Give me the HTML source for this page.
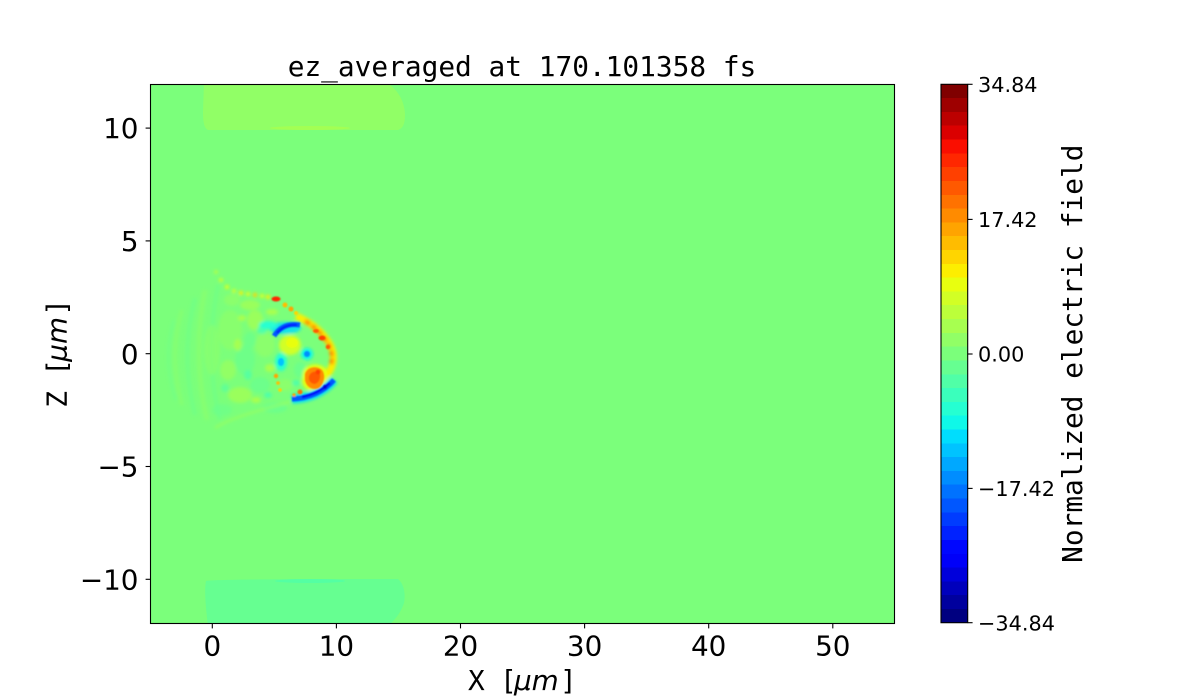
<!DOCTYPE html>
<html>
<head>
<meta charset="utf-8">
<style>
html,body{margin:0;padding:0;background:#fff;}
svg{display:block;}
.tk{font-family:"DejaVu Sans","Liberation Sans",sans-serif;font-size:27.8px;fill:#000;}
.ctk{font-family:"DejaVu Sans","Liberation Sans",sans-serif;font-size:20.8px;fill:#000;}
.mono{font-family:"DejaVu Sans Mono","Liberation Mono",monospace;font-size:27.8px;fill:#000;}
.it{font-family:"DejaVu Sans","Liberation Sans",sans-serif;font-style:italic;font-size:27.8px;}
</style>
</head>
<body>
<svg width="1200" height="700" viewBox="0 0 1200 700" xmlns="http://www.w3.org/2000/svg">
<defs>
  <clipPath id="ax"><rect x="150.5" y="84.5" width="744" height="539"/></clipPath>
  <filter id="bl" x="-20%" y="-20%" width="140%" height="140%"><feGaussianBlur stdDeviation="1.5"/></filter>
  <filter id="bl2" x="-20%" y="-20%" width="140%" height="140%"><feGaussianBlur stdDeviation="0.9"/></filter>
</defs>

<!-- Title -->
<text class="mono" x="522" y="76" text-anchor="middle">ez_averaged at 170.101358 fs</text>

<!-- Plot area -->
<g clip-path="url(#ax)">
  <rect x="150" y="84" width="745" height="540" fill="#7bff7b"/>
  <!-- top rectangle -->
  <path d="M205,82 L386,82 C398,90 404,100 405,114 C405,122 404,128 398,130 L208,130 C204,128 203,122 203,112 L204,82 Z" fill="#91ff66"/>
  <ellipse cx="310" cy="128" rx="40" ry="2" fill="#a7ff50" opacity="0.8"/>
  <!-- bottom rectangle -->
  <path d="M206,581 C210,579 350,579 398,579 C403,583 406,592 404,603 C401,612 396,619 388,626 L208,626 C206,610 204,590 206,581 Z" fill="#66ff91"/>
  <ellipse cx="310" cy="581" rx="35" ry="2" fill="#50ffa7" opacity="0.8"/>

  <!-- blob -->
  <g filter="url(#bl)">
    <!-- faint fringes -->
    <path d="M182,310 Q168,355 182,405" stroke="#91ff66" stroke-width="4" fill="none" opacity="0.45"/>
    <path d="M174,320 Q162,360 176,400" stroke="#66ff91" stroke-width="3" fill="none" opacity="0.4"/>
    <path d="M195,298 Q180,355 195,415" stroke="#66ff91" stroke-width="4" fill="none" opacity="0.45"/>
    <path d="M205,290 Q192,355 207,420" stroke="#91ff66" stroke-width="5" fill="none" opacity="0.5"/>
    <path d="M218,285 Q204,355 220,420" stroke="#66ff91" stroke-width="4" fill="none" opacity="0.45"/>
    <ellipse cx="230" cy="330" rx="12" ry="20" fill="#91ff66" opacity="0.6"/>
    <ellipse cx="245" cy="360" rx="10" ry="15" fill="#66ff91" opacity="0.6"/>
    <ellipse cx="255" cy="320" rx="8" ry="10" fill="#a7ff50" opacity="0.7"/>
    <ellipse cx="265" cy="345" rx="10" ry="12" fill="#91ff66" opacity="0.7"/>
    <ellipse cx="240" cy="395" rx="12" ry="8" fill="#a7ff50" opacity="0.7"/>
    <ellipse cx="260" cy="385" rx="10" ry="8" fill="#66ff91" opacity="0.7"/>
    <ellipse cx="275" cy="408" rx="12" ry="5" fill="#66ff91" opacity="0.7"/>
    <ellipse cx="250" cy="305" rx="10" ry="5" fill="#a7ff50" opacity="0.7"/>
    <ellipse cx="212" cy="350" rx="8" ry="25" fill="#91ff66" opacity="0.5"/>
    <ellipse cx="222" cy="410" rx="10" ry="6" fill="#66ff91" opacity="0.5"/>
    <ellipse cx="232" cy="300" rx="8" ry="6" fill="#91ff66" opacity="0.7"/>
    <ellipse cx="300" cy="370" rx="6" ry="8" fill="#66ff91" opacity="0.7"/>
    <ellipse cx="285" cy="385" rx="8" ry="6" fill="#91ff66" opacity="0.7"/>
    <ellipse cx="250" cy="340" rx="6" ry="8" fill="#66ff91" opacity="0.6"/>
    <ellipse cx="228" cy="370" rx="8" ry="10" fill="#a7ff50" opacity="0.5"/>
    <!-- extra mottling -->
    <ellipse cx="262" cy="330" rx="5" ry="4" fill="#3affbc" opacity="0.7"/>
    <ellipse cx="248" cy="375" rx="4" ry="5" fill="#50ffa7" opacity="0.8"/>
    <ellipse cx="270" cy="368" rx="5" ry="4" fill="#bcff3a" opacity="0.7"/>
    <ellipse cx="238" cy="345" rx="4" ry="6" fill="#bcff3a" opacity="0.6"/>
    <ellipse cx="256" cy="400" rx="5" ry="3" fill="#bcff3a" opacity="0.7"/>
    <ellipse cx="268" cy="395" rx="4" ry="3" fill="#3affbc" opacity="0.7"/>
    <ellipse cx="242" cy="318" rx="4" ry="3" fill="#bcff3a" opacity="0.7"/>
    <ellipse cx="225" cy="388" rx="4" ry="4" fill="#50ffa7" opacity="0.6"/>
    <ellipse cx="296" cy="383" rx="4" ry="3" fill="#3affbc" opacity="0.7"/>
    <ellipse cx="272" cy="312" rx="6" ry="3" fill="#bcff3a" opacity="0.7"/>
    <!-- bottom edge -->
    <path d="M215,428 C230,418 260,410 290,402" stroke="#a7ff50" stroke-width="2" fill="none" opacity="0.6"/>
    <!-- top edge dotted -->
    <circle cx="216" cy="272" r="1.8" fill="#bcff3a"/>
    <circle cx="221" cy="280" r="2" fill="#d2ff25"/>
    <circle cx="227" cy="287" r="2" fill="#e8ff0f"/>
    <circle cx="234" cy="291" r="2" fill="#d2ff25"/>
    <circle cx="241" cy="293" r="2.2" fill="#fdee00"/>
    <circle cx="248" cy="294" r="2" fill="#e8ff0f"/>
    <circle cx="255" cy="295" r="2.2" fill="#ffd500"/>
    <circle cx="262" cy="296" r="2" fill="#e8ff0f"/>
    <circle cx="268" cy="297" r="2.2" fill="#fdee00"/>
    <!-- right edge arc -->
    <path d="M296,316 C310,322 320,330 327,340 C333,348 335,356 332,366 C330,372 326,376 322,378" stroke="#fdee00" stroke-width="7" fill="none"/>
    <path d="M305,321 C315,327 322,334 327,342 C332,350 333,358 331,364" stroke="#ff8b00" stroke-width="4" fill="none" stroke-dasharray="6 2"/>
    <!-- cyan halo top -->
    <ellipse cx="285" cy="328" rx="16" ry="6" fill="#00ddfd" opacity="0.85"/>
    <!-- yellow center -->
    <ellipse cx="290" cy="345" rx="11" ry="10" fill="#d2ff25"/>
    <!-- cyan patches -->
    <ellipse cx="268" cy="325" rx="9" ry="4" fill="#25ffd2"/>
    <ellipse cx="281" cy="362" rx="6" ry="9" fill="#25ffd2"/>
    <circle cx="307" cy="354" r="6" fill="#0ff8e8"/>
    <!-- lower-right orange blob halo -->
    <path d="M303,372 C306,364 318,362 325,368 C330,374 328,386 322,391 C314,395 304,390 302,382 Z" fill="#e8ff0f"/>
    <!-- bottom blue arc halo -->
    <path d="M292,399 Q318,398 334,380" stroke="#00ddfd" stroke-width="9" fill="none"/>
  </g>
  <g filter="url(#bl2)">
    <ellipse cx="276" cy="299" rx="4.5" ry="2.5" fill="#ff2700"/>
    <circle cx="285" cy="305" r="2.5" fill="#ffbc00"/>
    <circle cx="291" cy="309" r="2.5" fill="#ffa400"/>
    <circle cx="296" cy="313" r="2" fill="#ffd500"/>
    <ellipse cx="322" cy="338" rx="3.5" ry="2.5" fill="#ff4000"/>
    <circle cx="328" cy="347" r="2.2" fill="#ff5900"/>
    <ellipse cx="316" cy="331" rx="3" ry="2" fill="#ff5900"/>
    <!-- top blue arc -->
    <path d="M274,336 Q283,322 300,325" stroke="#0057ff" stroke-width="5" fill="none"/>
    <path d="M277,333 Q285,324 297,325" stroke="#0022ff" stroke-width="2.5" fill="none"/>
    <ellipse cx="292" cy="343" rx="6" ry="5" fill="#e8ff0f"/>
    <ellipse cx="281" cy="362" rx="3" ry="4" fill="#00c3ff"/>
    <circle cx="307" cy="354" r="3" fill="#008dff"/>
    <!-- orange blob irregular -->
    <path d="M305,374 C307,367 316,365 322,370 C326,375 324,384 319,388 C313,391 306,387 305,380 Z" fill="#ff8b00"/>
    <path d="M309,376 C311,371 317,370 320,374 C321,379 318,384 314,384 C310,383 308,380 309,376 Z" fill="#ff5900"/>
    <circle cx="318" cy="372" r="2.5" fill="#ff4000"/>
    <!-- bottom blue arc -->
    <path d="M292,399 Q318,398 334,380" stroke="#0057ff" stroke-width="5" fill="none"/>
    <path d="M302,397 Q318,394 330,383" stroke="#0000f9" stroke-width="2.5" fill="none"/>
    <circle cx="325" cy="387" r="2.2" fill="#0000db"/>
    <!-- orange dots -->
    <circle cx="276" cy="376" r="2.2" fill="#ffa400"/>
    <circle cx="278" cy="383" r="1.8" fill="#ffbc00"/>
    <circle cx="280" cy="390" r="1.8" fill="#ffd500"/>
    <circle cx="300" cy="392" r="2.5" fill="#ff7200"/>
    <circle cx="294" cy="395" r="1.8" fill="#ffa400"/>
  </g>
</g>
<rect x="150.5" y="84.5" width="744" height="539" fill="none" stroke="#000" stroke-width="1.1"/>

<!-- Y ticks -->
<g stroke="#000" stroke-width="1.1">
  <line x1="145.6" y1="128.1" x2="150.5" y2="128.1"/>
  <line x1="145.6" y1="240.9" x2="150.5" y2="240.9"/>
  <line x1="145.6" y1="353.7" x2="150.5" y2="353.7"/>
  <line x1="145.6" y1="466.5" x2="150.5" y2="466.5"/>
  <line x1="145.6" y1="579.3" x2="150.5" y2="579.3"/>
</g>
<g class="tk" text-anchor="end">
  <text x="138.5" y="138.2">10</text>
  <text x="138.5" y="251.0">5</text>
  <text x="138.5" y="363.8">0</text>
  <text x="138.5" y="476.6">−5</text>
  <text x="138.5" y="589.4">−10</text>
</g>

<!-- X ticks -->
<g stroke="#000" stroke-width="1.1">
  <line x1="212.3" y1="623.5" x2="212.3" y2="628.4"/>
  <line x1="336.4" y1="623.5" x2="336.4" y2="628.4"/>
  <line x1="460.5" y1="623.5" x2="460.5" y2="628.4"/>
  <line x1="584.6" y1="623.5" x2="584.6" y2="628.4"/>
  <line x1="708.7" y1="623.5" x2="708.7" y2="628.4"/>
  <line x1="832.8" y1="623.5" x2="832.8" y2="628.4"/>
</g>
<g class="tk" text-anchor="middle">
  <text x="212.3" y="655.5">0</text>
  <text x="336.4" y="655.5">10</text>
  <text x="460.5" y="655.5">20</text>
  <text x="584.6" y="655.5">30</text>
  <text x="708.7" y="655.5">40</text>
  <text x="832.8" y="655.5">50</text>
</g>

<!-- X label -->
<text y="690"><tspan class="mono" x="468">X</tspan><tspan class="mono" x="500">[</tspan><tspan class="it" x="514">μm</tspan><tspan class="mono" x="560">]</tspan></text>
<!-- Y label -->
<g transform="translate(66.7,353.7) rotate(-90)">
  <text y="0"><tspan class="mono" x="-54">Z</tspan><tspan class="mono" x="-22">[</tspan><tspan class="it" x="-8">μm</tspan><tspan class="mono" x="38">]</tspan></text>
</g>

<!-- Colorbar -->
<g shape-rendering="crispEdges">
<rect x="941" y="84.30" width="26.7" height="13.9" fill="#800000"/>
<rect x="941" y="98.11" width="26.7" height="13.9" fill="#9e0000"/>
<rect x="941" y="111.92" width="26.7" height="13.9" fill="#bc0000"/>
<rect x="941" y="125.72" width="26.7" height="13.9" fill="#db0000"/>
<rect x="941" y="139.53" width="26.7" height="13.9" fill="#fa0e00"/>
<rect x="941" y="153.34" width="26.7" height="13.9" fill="#ff2700"/>
<rect x="941" y="167.15" width="26.7" height="13.9" fill="#ff4000"/>
<rect x="941" y="180.95" width="26.7" height="13.9" fill="#ff5900"/>
<rect x="941" y="194.76" width="26.7" height="13.9" fill="#ff7200"/>
<rect x="941" y="208.57" width="26.7" height="13.9" fill="#ff8b00"/>
<rect x="941" y="222.38" width="26.7" height="13.9" fill="#ffa400"/>
<rect x="941" y="236.18" width="26.7" height="13.9" fill="#ffbc00"/>
<rect x="941" y="249.99" width="26.7" height="13.9" fill="#ffd500"/>
<rect x="941" y="263.80" width="26.7" height="13.9" fill="#fdee00"/>
<rect x="941" y="277.61" width="26.7" height="13.9" fill="#e8ff0f"/>
<rect x="941" y="291.41" width="26.7" height="13.9" fill="#d2ff25"/>
<rect x="941" y="305.22" width="26.7" height="13.9" fill="#bcff3a"/>
<rect x="941" y="319.03" width="26.7" height="13.9" fill="#a7ff50"/>
<rect x="941" y="332.84" width="26.7" height="13.9" fill="#91ff66"/>
<rect x="941" y="346.64" width="26.7" height="13.9" fill="#7bff7b"/>
<rect x="941" y="360.45" width="26.7" height="13.9" fill="#66ff91"/>
<rect x="941" y="374.26" width="26.7" height="13.9" fill="#50ffa7"/>
<rect x="941" y="388.07" width="26.7" height="13.9" fill="#3affbc"/>
<rect x="941" y="401.87" width="26.7" height="13.9" fill="#25ffd2"/>
<rect x="941" y="415.68" width="26.7" height="13.9" fill="#0ff8e8"/>
<rect x="941" y="429.49" width="26.7" height="13.9" fill="#00ddfd"/>
<rect x="941" y="443.30" width="26.7" height="13.9" fill="#00c3ff"/>
<rect x="941" y="457.10" width="26.7" height="13.9" fill="#00a8ff"/>
<rect x="941" y="470.91" width="26.7" height="13.9" fill="#008dff"/>
<rect x="941" y="484.72" width="26.7" height="13.9" fill="#0072ff"/>
<rect x="941" y="498.53" width="26.7" height="13.9" fill="#0057ff"/>
<rect x="941" y="512.33" width="26.7" height="13.9" fill="#003cff"/>
<rect x="941" y="526.14" width="26.7" height="13.9" fill="#0022ff"/>
<rect x="941" y="539.95" width="26.7" height="13.9" fill="#0007ff"/>
<rect x="941" y="553.76" width="26.7" height="13.9" fill="#0000f9"/>
<rect x="941" y="567.56" width="26.7" height="13.9" fill="#0000db"/>
<rect x="941" y="581.37" width="26.7" height="13.9" fill="#0000bc"/>
<rect x="941" y="595.18" width="26.7" height="13.9" fill="#00009e"/>
<rect x="941" y="608.99" width="26.7" height="13.71" fill="#000080"/>
</g>
<rect x="941" y="84.3" width="26.7" height="538.4" fill="none" stroke="#000" stroke-width="1.1"/>
<g stroke="#000" stroke-width="1.1">
  <line x1="967.7" y1="84.3" x2="972.6" y2="84.3"/>
  <line x1="967.7" y1="219.4" x2="972.6" y2="219.4"/>
  <line x1="967.7" y1="354.0" x2="972.6" y2="354.0"/>
  <line x1="967.7" y1="488.4" x2="972.6" y2="488.4"/>
  <line x1="967.7" y1="622.7" x2="972.6" y2="622.7"/>
</g>
<g class="ctk">
  <text x="978" y="91.9">34.84</text>
  <text x="978" y="227.0">17.42</text>
  <text x="978" y="361.6">0.00</text>
  <text x="978" y="496.0">−17.42</text>
  <text x="978" y="630.3">−34.84</text>
</g>
<g transform="translate(1082,353.7) rotate(-90)">
  <text class="mono" x="0" y="0" text-anchor="middle">Normalized electric field</text>
</g>
</svg>
</body>
</html>
